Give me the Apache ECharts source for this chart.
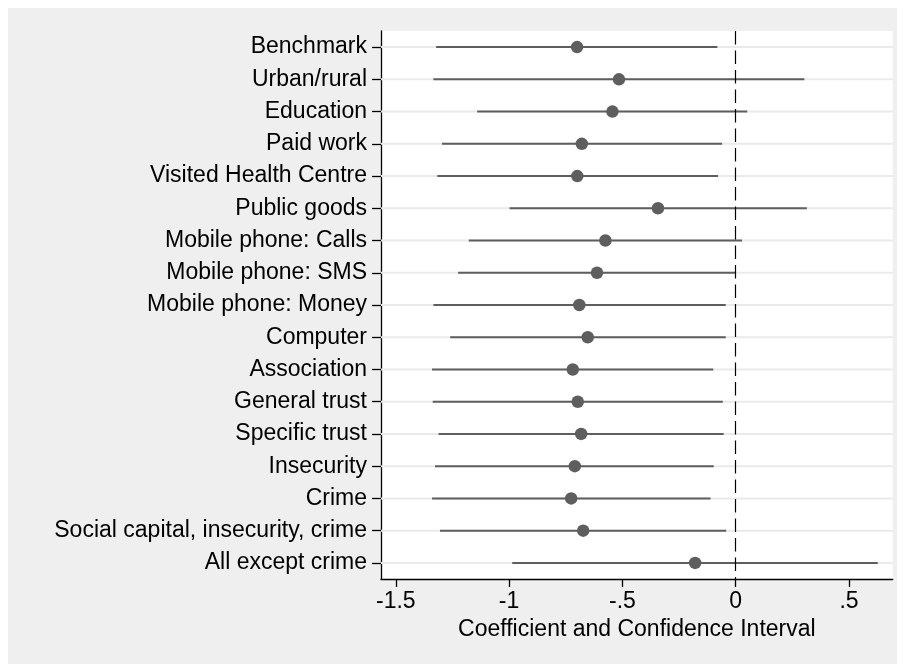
<!DOCTYPE html>
<html>
<head>
<meta charset="utf-8">
<script src="https://cdn.jsdelivr.net/npm/echarts@6/dist/echarts.min.js"></script>
<style>
  html, body { background: #ffffff; }
  body { margin: 8px; }
  #chart { width: 897px; height: 656px; }
</style>
</head>
<body>
<div id="chart"></div>
<script>
const categories = [
  'Benchmark', 'Urban/rural', 'Education', 'Paid work', 'Visited Health Centre',
  'Public goods', 'Mobile phone: Calls', 'Mobile phone: SMS', 'Mobile phone: Money',
  'Computer', 'Association', 'General trust', 'Specific trust', 'Insecurity',
  'Crime', 'Social capital, insecurity, crime', 'All except crime'
];
const coef   = [-0.700, -0.515, -0.544, -0.679, -0.699, -0.343, -0.575, -0.612, -0.690, -0.653, -0.719, -0.697, -0.682, -0.710, -0.726, -0.673, -0.179];
const ciLow  = [-1.322, -1.334, -1.141, -1.296, -1.317, -0.998, -1.178, -1.225, -1.334, -1.260, -1.340, -1.337, -1.311, -1.327, -1.340, -1.305, -0.986];
const ciHigh = [-0.081, 0.303, 0.051, -0.060, -0.078, 0.314, 0.028, 0.001, -0.044, -0.044, -0.099, -0.057, -0.053, -0.097, -0.111, -0.042, 0.627];
const xTicks = [-1.5, -1, -0.5, 0, 0.5];
const xTickLabels = ['-1.5', '-1', '-.5', '0', '.5'];
const xTitle = 'Coefficient and Confidence Interval';

const FONT = 'Liberation Sans, Arial, Helvetica, sans-serif';
const FS = 23;
const chart = echarts.init(document.getElementById('chart'));

const ciData = categories.map((c, i) => [ciLow[i], ciHigh[i], i]);
const dotData = categories.map((c, i) => [coef[i], i]);

chart.setOption({
  backgroundColor: '#EFEFEF',
  animation: false,
  grid: {
    left: 373, top: 23, width: 511.7, height: 548,
    show: true, backgroundColor: '#ffffff', borderWidth: 0
  },
  xAxis: {
    type: 'value',
    min: -1.5653, max: 0.6929,
    splitLine: { show: false },
    axisLine: { show: true, onZero: false, lineStyle: { color: '#000', width: 1.3 } },
    axisTick: { show: true, length: 8, customValues: xTicks, lineStyle: { color: '#000', width: 1.3 } },
    axisLabel: {
      customValues: xTicks, margin: 11,
      color: '#000', fontSize: FS, fontFamily: FONT,
      formatter: v => { const k = xTicks.findIndex(t => Math.abs(t - v) < 1e-9); return k >= 0 ? xTickLabels[k] : ''; }
    },
    name: xTitle, nameLocation: 'middle', nameGap: 35,
    nameTextStyle: { color: '#000', fontSize: FS, fontFamily: FONT }
  },
  yAxis: {
    type: 'category',
    data: categories,
    inverse: true,
    axisLine: { show: true, onZero: false, lineStyle: { color: '#000', width: 1.3 } },
    axisTick: { show: true, alignWithLabel: true, length: 9, lineStyle: { color: '#000', width: 1.3 } },
    axisLabel: { margin: 14, color: '#000', fontSize: FS, fontFamily: FONT, interval: 0 },
    splitLine: { show: false }
  },
  series: [
    {
      type: 'custom',
      data: ciData,
      encode: { x: [0, 1], y: 2 },
      z: 2,
      renderItem: function (params, api) {
        const cs = params.coordSys;
        const p1 = api.coord([api.value(0), api.value(2)]);
        const p2 = api.coord([api.value(1), api.value(2)]);
        return {
          type: 'group',
          children: [
            { type: 'line', shape: { x1: cs.x, y1: p1[1], x2: cs.x + cs.width, y2: p1[1] },
              style: { stroke: '#EAEAEA', lineWidth: 2 }, z2: 0 },
            { type: 'line', shape: { x1: p1[0], y1: p1[1], x2: p2[0], y2: p2[1] },
              style: { stroke: '#5E5E5E', lineWidth: 2 }, z2: 1 }
          ]
        };
      }
    },
    {
      type: 'scatter',
      data: dotData,
      symbol: 'circle',
      symbolSize: 12.5,
      z: 5,
      itemStyle: { color: '#5E5E5E', opacity: 1 },
      markLine: {
        silent: true, symbol: 'none', label: { show: false },
        lineStyle: { color: '#000', type: [13.5, 6], width: 1.2 },
        data: [{ xAxis: 0 }],
        z: 3
      }
    }
  ]
});
</script>
</body>
</html>
